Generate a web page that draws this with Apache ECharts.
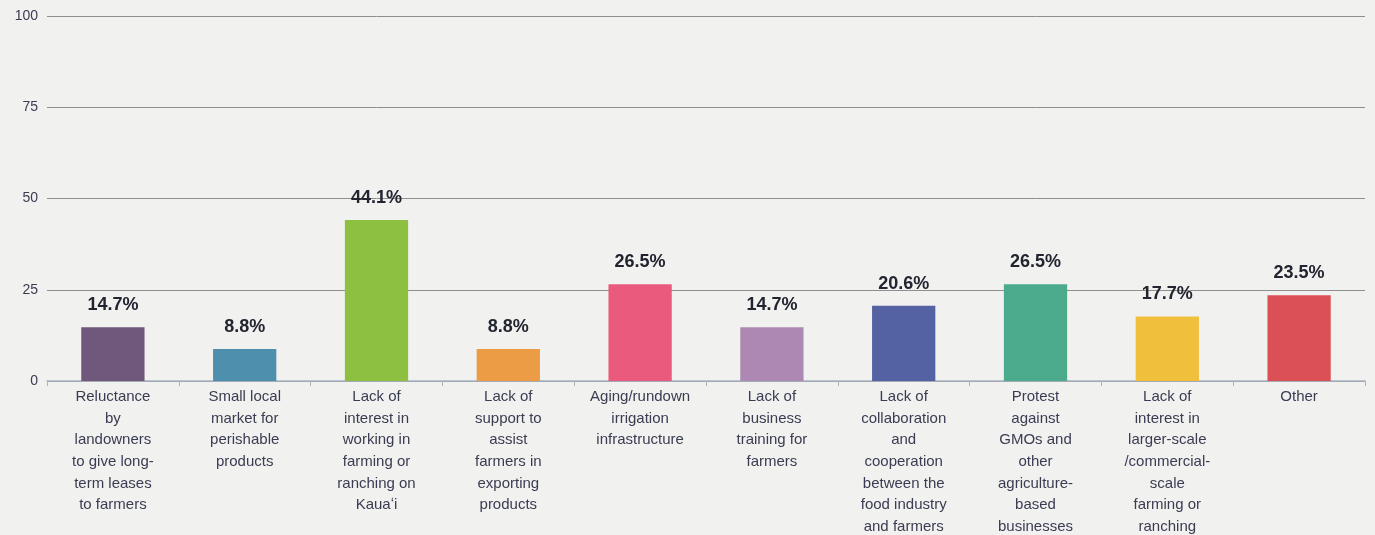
<!DOCTYPE html>
<html lang="en">

<head>
  <meta charset="UTF-8">
  <title>Barriers</title>
  <script src="https://cdn.jsdelivr.net/npm/echarts@6/dist/echarts.min.js"></script>
  <style>
    html, body { margin: 0; padding: 0; background: #f1f1ef; }
  </style>
</head>

<body>
  <div id="chart" style="width: 1375px;height: 535px;"></div>
</body>
<script>
  var categories = [
    'Reluctance\nby\nlandowners\nto give long-\nterm leases\nto farmers',
    'Small local\nmarket for\nperishable\nproducts',
    'Lack of\ninterest in\nworking in\nfarming or\nranching on\nKaua\u02bbi',
    'Lack of\nsupport to\nassist\nfarmers in\nexporting\nproducts',
    'Aging/rundown\nirrigation\ninfrastructure',
    'Lack of\nbusiness\ntraining for\nfarmers',
    'Lack of\ncollaboration\nand\ncooperation\nbetween the\nfood industry\nand farmers',
    'Protest\nagainst\nGMOs and\nother\nagriculture-\nbased\nbusinesses',
    'Lack of\ninterest in\nlarger-scale\n/commercial-\nscale\nfarming or\nranching',
    'Other'
  ]
  var values = [14.7, 8.8, 44.1, 8.8, 26.5, 14.7, 20.6, 26.5, 17.7, 23.5]
  var barColors = ['#6f587c', '#4f8fae', '#8dbf40', '#eb9c45', '#ea5a7c', '#ad88b2', '#5461a3', '#4bab8c', '#f0c03c', '#db5057']
  var yTicks = [0, 25, 50, 75, 100]

  var charts = echarts.init(document.getElementById('chart'));
  var option = {
    backgroundColor: '#f1f1ef',
    textStyle: { fontFamily: 'Liberation Sans, Arial, sans-serif' },
    grid: { left: 47, right: 10, top: 16, bottom: 154, outerBoundsMode: 'none', containLabel: false },
    xAxis: {
      type: 'category',
      data: categories,
      axisLine: { lineStyle: { color: '#a9b4c4', width: 1.5 } },
      axisTick: { show: true, length: 5, lineStyle: { color: '#a9b4c4' } },
      axisLabel: {
        interval: 0,
        color: '#3a3c52',
        fontSize: 15,
        lineHeight: 21.7,
        margin: 5
      }
    },
    yAxis: {
      type: 'value',
      min: yTicks[0],
      max: yTicks[yTicks.length - 1],
      interval: 25,
      axisLine: { show: false },
      axisTick: { show: false },
      axisLabel: { color: '#3a3c52', fontSize: 14, margin: 9 },
      splitLine: { lineStyle: { color: '#8e8e8e', width: 1 } }
    },
    series: [{
      type: 'bar',
      barWidth: '48%',
      data: values.map(function (v, i) {
        return { value: v, itemStyle: { color: barColors[i] } }
      }),
      label: {
        show: true,
        position: 'top',
        distance: 13,
        formatter: function (p) { return p.value.toFixed(1) + '%' },
        color: '#222430',
        fontSize: 18,
        fontWeight: 'bold'
      }
    }]
  };
  charts.setOption(option);
</script>

</html>
